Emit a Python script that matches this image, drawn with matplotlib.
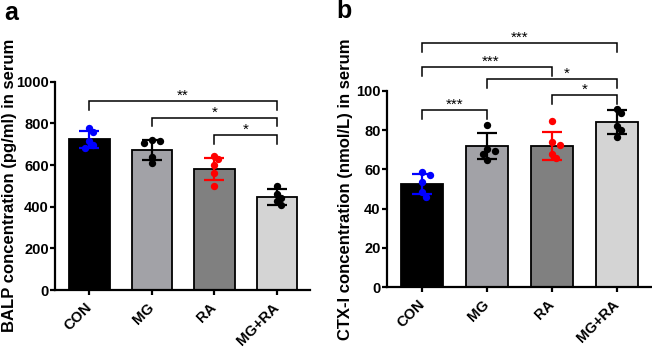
import matplotlib
matplotlib.use('Agg')
import matplotlib.pyplot as plt
import matplotlib.transforms as mtransforms
import numpy as np

plt.rcParams['font.family'] = ['Liberation Sans', 'DejaVu Sans']
plt.rcParams['font.weight'] = 'bold'

# ---------------- data ----------------
groups = ['CON', 'MG', 'RA', 'MG+RA']
bar_colors = ['#000000', '#a2a2a7', '#808080', '#d4d4d4']
point_colors = ['#0000ff', '#000000', '#ff0000', '#000000']

balp_mean = [724, 670, 582, 446]
balp_sd = [40, 48, 52, 38]
balp_con = [778, 760, 715, 695, 683]
balp_mg = [718, 716, 705, 640, 608]
balp_ra = [645, 628, 600, 560, 498]
balp_mgra = [497, 460, 440, 425, 408]

ctx_mean = [52.4, 72.0, 72.0, 84.2]
ctx_sd = [5.0, 6.6, 7.1, 6.1]
ctx_con = [58.5, 57.0, 53.5, 48.5, 46.0]
ctx_mg = [82.5, 70.5, 69.5, 68.0, 64.5]
ctx_ra = [84.5, 74.0, 72.5, 68.0, 66.0]
ctx_mgra = [90.5, 88.5, 82.0, 80.0, 76.5]

# significance annotations: (group i, group j, label, bracket height, label shift)
balp_sig = [(0, 3, '**', 905, 0.0), (1, 3, '*', 825, 0.0), (2, 3, '*', 742, 0.0)]
ctx_sig = [(0, 3, '***', 124.4, 0.0), (0, 2, '***', 112.2, 0.05),
           (1, 3, '*', 105.9, 0.23), (2, 3, '*', 97.8, 0.0), (0, 1, '***', 90.1, 0.0)]

W, H = 652, 351
fig = plt.figure(figsize=(W / 100, H / 100), dpi=100)


def px_rect(x0, x1, ytop, ybot):
    return [x0 / W, 1 - ybot / H, (x1 - x0) / W, (ybot - ytop) / H]


def swarm(ax, xc, vals, diam_px):
    """simple deterministic swarm offsets (data units)"""
    to_px = ax.transData.transform
    inv = ax.transData.inverted().transform
    placed = []
    xs = []
    for v in vals:
        best = 0
        for c in [0, 1, -1, 2, -2]:
            off_px = c * diam_px * 0.6
            px0, py0 = to_px((xc, v))
            ok = True
            for (qx, qy) in placed:
                if np.hypot(px0 + off_px - qx, py0 - qy) < diam_px * 0.75:
                    ok = False
                    break
            if ok:
                best = off_px
                break
        px0, py0 = to_px((xc, v))
        placed.append((px0 + best, py0))
        xs.append(inv((px0 + best, py0))[0])
    return xs


def panel(rect, means, sds, pts, ylim, yticks, ylabel, sig, drop, label_x):
    ax = fig.add_axes(rect)
    x = np.arange(len(groups))
    ax.set_xlim(-0.55, 3.53)
    ax.set_ylim(*ylim)
    ax.bar(x, means, width=0.645, color=bar_colors, edgecolor='black', linewidth=1.3, zorder=2)
    for i in range(len(groups)):
        xs = swarm(ax, x[i], pts[i], 6.7)
        ax.scatter(xs, pts[i], s=28, color=point_colors[i], zorder=4, linewidths=0)
        ax.errorbar(x[i], means[i], yerr=sds[i], fmt='none', ecolor=point_colors[i],
                    elinewidth=1.6, capsize=7.5, capthick=1.6, zorder=5)
    for (i, j, lab, h, shift) in sig:
        ax.plot([x[i], x[i], x[j], x[j]], [h - drop, h, h, h - drop], color='black',
                lw=1.1, clip_on=False, zorder=6, solid_joinstyle='miter')
        ax.annotate(lab, xy=((x[i] + x[j]) / 2 + shift, h), xytext=(0, 1.0),
                    textcoords='offset points', ha='center', va='baseline',
                    fontsize=11, fontweight='normal', annotation_clip=False)
    for s in ['top', 'right']:
        ax.spines[s].set_visible(False)
    for s in ['left', 'bottom']:
        ax.spines[s].set_linewidth(1.6)
    ax.set_yticks(yticks)
    ax.set_xticks(x)
    ax.set_xticklabels(groups, rotation=45, ha='right', va='center', rotation_mode='anchor',
                       fontsize=10.5, fontweight='bold')
    offset = mtransforms.ScaledTranslation(3 / 100, 0, fig.dpi_scale_trans)
    for t in ax.get_xticklabels():
        t.set_transform(t.get_transform() + offset)
    ax.tick_params(axis='both', width=1.6, length=3.5, pad=1)
    ax.tick_params(axis='y', labelsize=10.5)
    ax.tick_params(axis='x', pad=7.5)
    for t in ax.get_yticklabels():
        t.set_fontweight('bold')
    ax.set_ylabel(ylabel, fontsize=12, fontweight='bold')
    ax.yaxis.set_label_coords(label_x, 0.5)
    return ax


axa = panel(px_rect(55, 310, 81.7, 290), balp_mean, balp_sd,
            [balp_con, balp_mg, balp_ra, balp_mgra], (0, 1000), [0, 200, 400, 600, 800, 1000],
            'BALP concentration (pg/ml) in serum', balp_sig, 40, (17.5 - 55) / 255)
axb = panel(px_rect(386.7, 651, 90.7, 287.3), ctx_mean, ctx_sd,
            [ctx_con, ctx_mg, ctx_ra, ctx_mgra], (0, 100), [0, 20, 40, 60, 80, 100],
            'CTX-I concentration (nmol/L) in serum', ctx_sig, 4.5, (353 - 386.7) / 264.3)

fig.text(4 / W, 1 - 1 / H, 'a', fontsize=18, fontweight='bold', va='top', ha='left')
fig.text(336 / W, 1 + 1 / H, 'b', fontsize=18, fontweight='bold', va='top', ha='left')

fig.savefig('out.png', dpi=100)
